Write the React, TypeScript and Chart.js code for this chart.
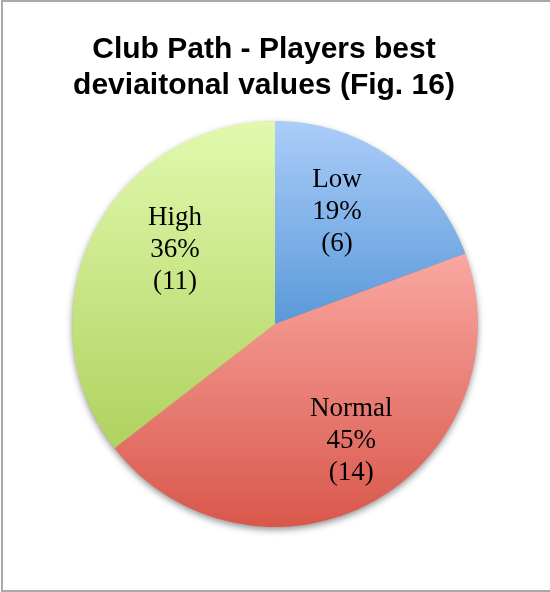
import React, { useEffect, useRef } from "react";
import { Chart, registerables } from "chart.js";

Chart.register(...registerables);

// Slice data
const categories = ["Low", "Normal", "High"];
const counts = [6, 14, 11];
const percentLabels = ["19%", "45%", "36%"];
const titleLines = ["Club Path - Players best", "deviaitonal values (Fig. 16)"];

// Vertical gradient stops per slice (top, bottom)
const gradientTop = ["#abcdf9", "#f9a8a2", "#e2f9ae"];
const gradientBottom = ["#5a99d9", "#d9574b", "#afd25f"];

// Label anchor inside each slice: fraction along the slice's sweep, fraction of radius
const labelSweepFrac = [0.408, 0.472, 0.587];
const labelRadiusFrac = [0.641, 0.679, 0.619];

const LABEL_FONT = '27px "Liberation Serif", "Times New Roman", serif';
const TITLE_FONT = 'bold 30px "Liberation Sans", Arial, sans-serif';

function sliceAngles(values: number[]) {
  const total = values.reduce((a, b) => a + b, 0);
  let cum = 0;
  return values.map((v) => {
    const start = -Math.PI / 2 + (cum / total) * Math.PI * 2;
    cum += v;
    const end = -Math.PI / 2 + (cum / total) * Math.PI * 2;
    return { start, end };
  });
}

function pieGeometry(chart: Chart) {
  const a = chart.chartArea;
  const cx = (a.left + a.right) / 2;
  const cy = (a.top + a.bottom) / 2;
  const r = Math.min(a.right - a.left, a.bottom - a.top) / 2;
  return { cx, cy, r };
}

function sliceYRange(cy: number, r: number, start: number, end: number) {
  const ys = [cy, cy + r * Math.sin(start), cy + r * Math.sin(end)];
  // include any vertical extremes crossed by the arc
  for (let k = -4; k <= 4; k++) {
    const a = -Math.PI / 2 + k * Math.PI;
    if (a > start && a < end) ys.push(cy + r * Math.sin(a));
  }
  return { top: Math.min(...ys), bottom: Math.max(...ys) };
}

const decorPlugin = {
  id: "pieDecor",
  beforeDatasetsDraw(chart: Chart) {
    const ctx = chart.ctx;
    const { cx, cy, r } = pieGeometry(chart);
    ctx.save();
    ctx.shadowColor = "rgba(0,0,0,0.45)";
    ctx.shadowBlur = 7;
    ctx.shadowOffsetX = 0;
    ctx.shadowOffsetY = 3;
    ctx.fillStyle = "#d96a5e";
    ctx.beginPath();
    ctx.arc(cx, cy, r - 0.5, 0, Math.PI * 2);
    ctx.fill();
    ctx.restore();
  },
  afterDatasetsDraw(chart: Chart) {
    const ctx = chart.ctx;
    const { cx, cy, r } = pieGeometry(chart);
    const angles = sliceAngles(counts);
    ctx.save();
    ctx.fillStyle = "#000";
    ctx.font = LABEL_FONT;
    ctx.textAlign = "center";
    ctx.textBaseline = "alphabetic";
    angles.forEach(({ start, end }, i) => {
      const ang = start + (end - start) * labelSweepFrac[i];
      const rad = r * labelRadiusFrac[i];
      const x = cx + Math.cos(ang) * rad;
      const y = cy + Math.sin(ang) * rad;
      const lines = [categories[i], percentLabels[i], `(${counts[i]})`];
      lines.forEach((t, k) => {
        ctx.fillText(t, x, y + (k - 1) * 32 + 9);
      });
    });
    ctx.restore();
  },
  afterDraw(chart: Chart) {
    const ctx = chart.ctx;
    ctx.save();
    ctx.fillStyle = "#000";
    ctx.font = TITLE_FONT;
    ctx.textAlign = "center";
    ctx.textBaseline = "alphabetic";
    titleLines.forEach((t, k) => ctx.fillText(t, 264, 58 + k * 36));
    ctx.restore();
  },
};

export default function App() {
  const canvasRef = useRef<HTMLCanvasElement | null>(null);

  useEffect(() => {
    if (!canvasRef.current) return;
    const angles = sliceAngles(counts);
    const chart = new Chart(canvasRef.current, {
      type: "pie",
      data: {
        labels: categories,
        datasets: [
          {
            data: counts,
            borderWidth: 0,
            backgroundColor: (c: any) => {
              const ch = c.chart as Chart;
              const i = c.dataIndex ?? 0;
              if (!ch.chartArea) return gradientBottom[i];
              const { cy, r } = pieGeometry(ch);
              const { top, bottom } = sliceYRange(cy, r, angles[i].start, angles[i].end);
              const g = ch.ctx.createLinearGradient(0, top, 0, bottom);
              g.addColorStop(0, gradientTop[i]);
              g.addColorStop(1, gradientBottom[i]);
              return g;
            },
          },
        ],
      },
      options: {
        responsive: false,
        animation: false,
        devicePixelRatio: 1,
        layout: { padding: { left: 72, right: 72, top: 121, bottom: 65 } },
        plugins: {
          legend: { display: false },
          tooltip: { enabled: false },
          title: { display: false },
        },
      },
      plugins: [decorPlugin],
    });
    return () => chart.destroy();
  }, []);

  return (
    <div style={{ position: "absolute", left: 0, top: 0, width: 550, height: 592, background: "#fff", overflow: "hidden" }}>
      <div
        style={{
          position: "absolute",
          left: 1,
          top: 0,
          width: 600,
          height: 592,
          boxSizing: "border-box",
          border: "2px solid #a9a9a9",
        }}
      />
      <canvas
        ref={canvasRef}
        width={550}
        height={592}
        style={{ position: "absolute", left: 0, top: 0, width: 550, height: 592 }}
      />
    </div>
  );
}
